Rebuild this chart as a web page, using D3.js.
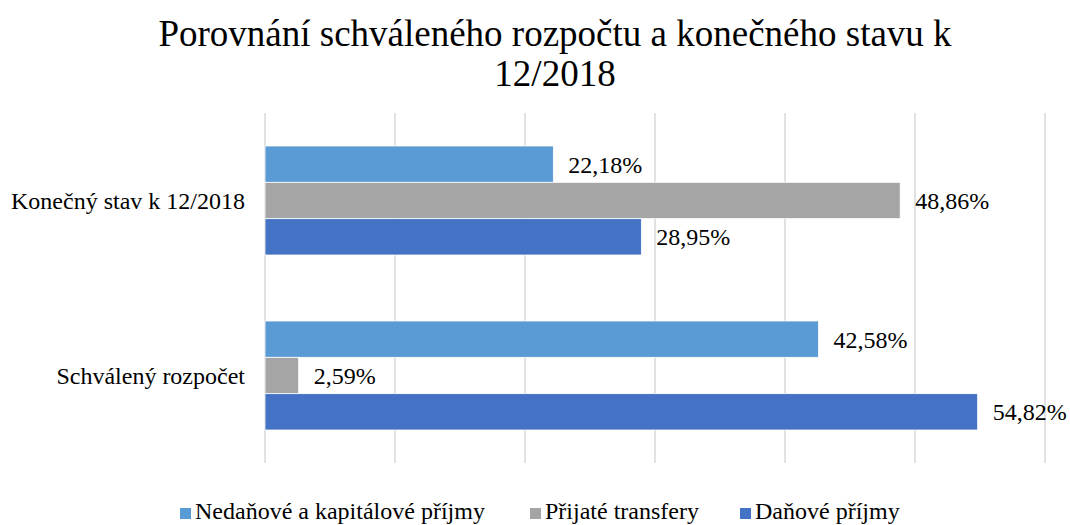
<!DOCTYPE html>
<html><head><meta charset="utf-8">
<script src="https://cdn.jsdelivr.net/npm/d3@7"></script>
<style>body{margin:0;background:#fff}svg{display:block}</style>
</head><body><svg id="c" width="1070" height="525"></svg>
<script>
const categories = ["Konečný stav k 12/2018", "Schválený rozpočet"];
const seriesNames = ["Nedaňové a kapitálové příjmy", "Přijaté transfery", "Daňové příjmy"];
const seriesColors = ["#5B9BD5", "#A5A5A5", "#4472C4"];
const nedanove = [22.18, 42.58];
const prijate = [48.86, 2.59];
const danove = [28.95, 54.82];
const xTicks = [0, 10, 20, 30, 40, 50, 60];

const FONT = "Liberation Serif";
const seriesValues = [nedanove, prijate, danove];
const svg = d3.select("#c");
const m = {l:265, r:1045, t:113, b:463};
const x = d3.scaleLinear().domain([0,60]).range([m.l, m.r]);
const y0 = d3.scaleBand().domain(categories).range([m.t, m.b]).paddingInner(0.377).paddingOuter(0.1885);
const y1 = d3.scaleBand().domain(seriesNames).range([0, y0.bandwidth()]);

svg.append("g").selectAll("line").data(xTicks).join("line")
  .attr("x1", d=>x(d)).attr("x2", d=>x(d)).attr("y1", m.t).attr("y2", m.b)
  .attr("stroke", "#d9d9d9").attr("stroke-width", 1.5);

svg.append("text").attr("x", 555).attr("y", 46).attr("text-anchor","middle").attr("font-family", FONT).attr("font-size", 37)
  .text("Porovnání schváleného rozpočtu a konečného stavu k");
svg.append("text").attr("x", 555).attr("y", 86).attr("text-anchor","middle").attr("font-family", FONT).attr("font-size", 37)
  .text("12/2018");

categories.forEach((cat, ci) => {
  const g = svg.append("g").attr("transform", `translate(0,${y0(cat)})`);
  seriesNames.forEach((s, si) => {
    const v = seriesValues[si][ci];
    g.append("rect").attr("x", x(0)).attr("y", y1(s)).attr("width", x(v)-x(0)).attr("height", y1.bandwidth())
      .attr("fill", seriesColors[si]).attr("stroke","#fff").attr("stroke-width",0.8);
    g.append("text").attr("x", x(v)+15).attr("y", y1(s)+y1.bandwidth()/2).attr("dy","0.35em")
      .attr("font-family", FONT).attr("font-size", 24).text(v.toFixed(2).replace(".", ",") + "%");
  });
  svg.append("text").attr("x", 245).attr("y", y0(cat)+y0.bandwidth()/2).attr("dy","0.35em")
    .attr("text-anchor","end").attr("font-family", FONT).attr("font-size", 24).text(cat);
});

const legX = [180, 530, 740];
seriesNames.forEach((s, i) => {
  svg.append("rect").attr("x", legX[i]).attr("y", 508).attr("width", 11).attr("height", 11).attr("fill", seriesColors[i]);
  svg.append("text").attr("x", legX[i]+15).attr("y", 519).attr("font-family", FONT).attr("font-size", 24).text(s);
});
</script></body></html>
